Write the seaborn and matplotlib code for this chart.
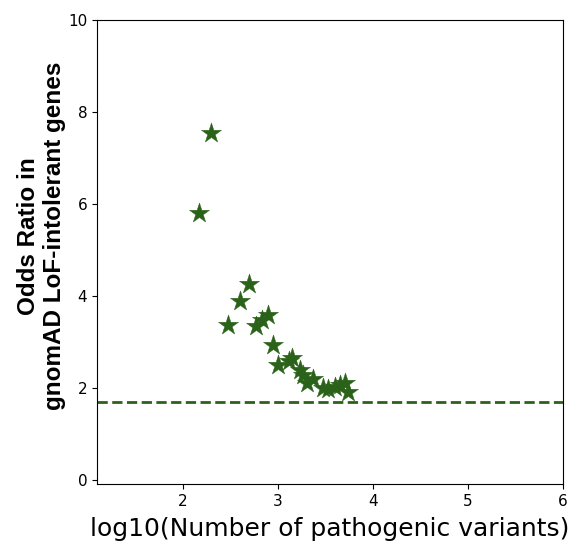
import matplotlib
matplotlib.use("Agg")
import matplotlib.pyplot as plt
import seaborn as sns
import pandas as pd

log_variants = [2.17, 2.30, 2.47, 2.60, 2.69, 2.77, 2.83, 2.89, 2.95, 3.00, 3.12,
                3.15, 3.23, 3.26, 3.30, 3.37, 3.47, 3.53, 3.60, 3.65, 3.70, 3.74]
odds_ratio = [5.80, 7.54, 3.37, 3.89, 4.26, 3.35, 3.48, 3.59, 2.93, 2.50, 2.58,
              2.65, 2.38, 2.28, 2.10, 2.20, 2.00, 1.98, 2.03, 2.07, 2.10, 1.91]
baseline = 1.7

df = pd.DataFrame({"x": log_variants, "y": odds_ratio})
green = "#2b6219"

sns.set_style("ticks")
plt.rcParams.update({"text.color": "black", "axes.labelcolor": "black",
                     "xtick.color": "black", "ytick.color": "black",
                     "axes.edgecolor": "black"})
fig = plt.figure(figsize=(5.70, 5.42), dpi=100)
ax = fig.add_axes([0.170, 0.107, 0.818, 0.856])
sns.scatterplot(data=df, x="x", y="y", marker="*", s=230, color=green,
                edgecolor=green, linewidth=0.3, ax=ax, zorder=3)
ax.axhline(baseline, color=green, linestyle="--", linewidth=2)
ax.set_xlim(1.095, 6)
ax.set_ylim(-0.09, 10)
ax.set_xticks([2, 3, 4, 5, 6])
ax.set_yticks([0, 2, 4, 6, 8, 10])
ax.tick_params(labelsize=11, colors="black")
ax.set_xlabel("log10(Number of pathogenic variants)", fontsize=18, labelpad=6)
ax.set_ylabel("Odds Ratio in\ngnomAD LoF-intolerant genes", fontsize=17.5,
              fontweight="bold", family=["Liberation Sans", "DejaVu Sans"])
ax.yaxis.set_label_coords(-0.066, 0.534)
for s in ax.spines.values():
    s.set_visible(True)
    s.set_color("black")
fig.savefig("out.png", dpi=100)
